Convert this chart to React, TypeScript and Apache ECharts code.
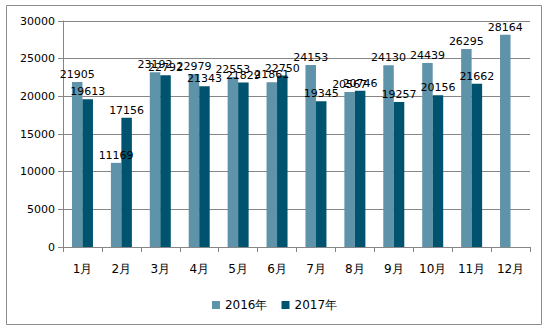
import React, { useEffect, useRef } from "react";
import * as echarts from "echarts";

const categories = ["1月", "2月", "3月", "4月", "5月", "6月", "7月", "8月", "9月", "10月", "11月", "12月"];
const values2016 = [21905, 11169, 23192, 22979, 22553, 21861, 24153, 20567, 24130, 24439, 26295, 28164];
const values2017: (number | null)[] = [19613, 17156, 22792, 21343, 21829, 22750, 19345, 20746, 19257, 20156, 21662, null];
const yTicks = { min: 0, max: 30000, interval: 5000 };

export default function App() {
  const ref = useRef<HTMLDivElement>(null);
  useEffect(() => {
    document.body.style.margin = "0";
    const chart = echarts.init(ref.current!, null, { renderer: "svg" });
    const font = "DejaVu Sans, Verdana, sans-serif";
    chart.setOption({
      animation: false,
      backgroundColor: "#ffffff",
      textStyle: { fontFamily: font },
      graphic: [
        {
          type: "rect",
          shape: { x: 6.5, y: 5.5, width: 535, height: 319 },
          style: { fill: "none", stroke: "#8c8c8c", lineWidth: 1 },
          silent: true,
        },
      ],
      grid: { left: 63, right: 19, top: 21, bottom: 81 },
      legend: {
        bottom: 12,
        left: "center",
        icon: "rect",
        itemWidth: 8,
        itemHeight: 8,
        itemGap: 14,
        textStyle: { fontFamily: font, fontSize: 12, color: "#000" },
        data: ["2016年", "2017年"],
      },
      xAxis: {
        type: "category",
        data: categories,
        axisLine: { lineStyle: { color: "#868686" } },
        axisTick: { show: true, length: 5, lineStyle: { color: "#868686" } },
        axisLabel: { color: "#000", fontSize: 12, fontFamily: font, margin: 16 },
      },
      yAxis: {
        type: "value",
        min: yTicks.min,
        max: yTicks.max,
        interval: yTicks.interval,
        axisLine: { show: true, lineStyle: { color: "#868686" } },
        axisTick: { show: true, length: 5, lineStyle: { color: "#868686" } },
        axisLabel: {
          color: "#000",
          fontSize: 11,
          fontFamily: font,
          margin: 8,
          formatter: (v: number) => String(v),
        },
        splitLine: { lineStyle: { color: "#868686" } },
      },
      series: [
        {
          name: "2016年",
          type: "bar",
          data: values2016,
          barWidth: 10.5,
          barGap: "0%",
          itemStyle: { color: "#5e93aa" },
          label: { show: true, position: "top", distance: 2, color: "#000", fontSize: 11, fontFamily: font },
        },
        {
          name: "2017年",
          type: "bar",
          data: values2017,
          barWidth: 10.5,
          barGap: "0%",
          itemStyle: { color: "#00536e" },
          label: { show: true, position: "top", distance: 2, color: "#000", fontSize: 11, fontFamily: font },
        },
      ],
    });
    return () => chart.dispose();
  }, []);
  return <div ref={ref} style={{ width: 549, height: 328 }} />;
}
